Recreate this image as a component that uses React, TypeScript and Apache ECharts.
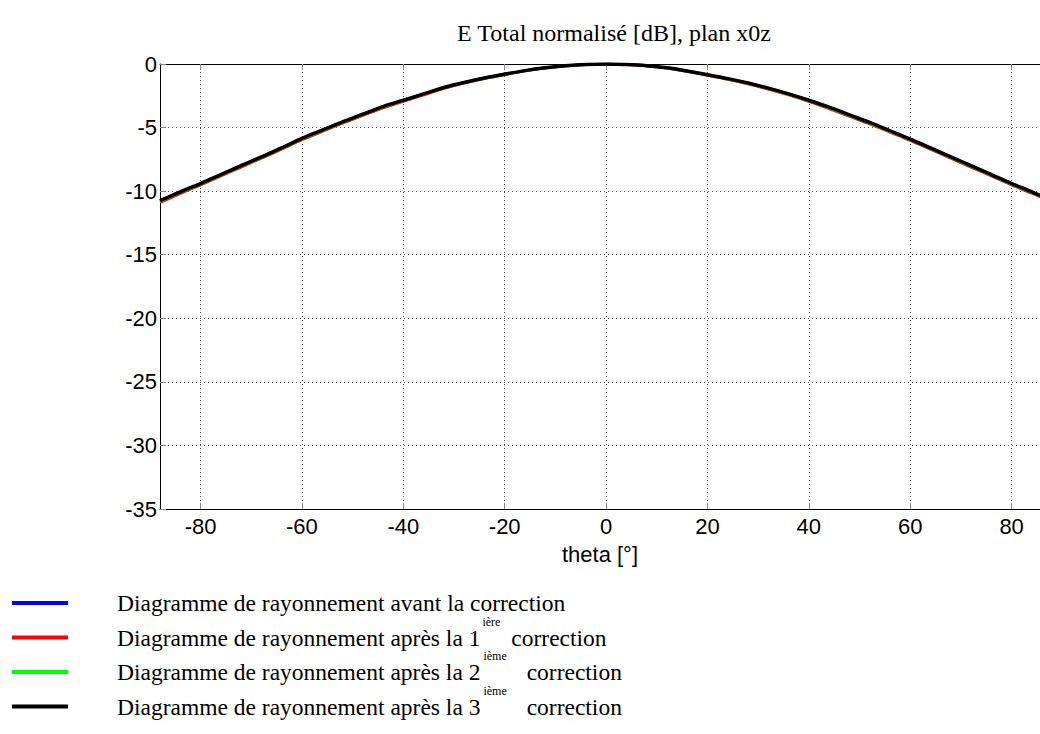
import React, { useEffect, useRef } from "react";
import * as echarts from "echarts";

const theta = [-88, -84, -80, -76, -72, -68, -64, -60, -56, -52, -48, -44, -40, -36, -32, -28, -24, -20, -16, -12, -8, -4, 0, 4, 8, 12, 16, 20, 24, 28, 32, 36, 40, 44, 48, 52, 56, 60, 64, 68, 72, 76, 80, 84, 88];

const avant = [-10.75, -10.05, -9.4, -8.7, -8.0, -7.3, -6.6, -5.85, -5.2, -4.55, -3.95, -3.35, -2.85, -2.35, -1.85, -1.45, -1.1, -0.8, -0.52, -0.3, -0.14, -0.04, 0, -0.04, -0.13, -0.3, -0.55, -0.85, -1.15, -1.5, -1.9, -2.35, -2.85, -3.4, -4.0, -4.6, -5.25, -5.9, -6.6, -7.3, -8.0, -8.7, -9.4, -10.05, -10.75];

const apres1 = [-10.9, -10.2, -9.52, -8.82, -8.12, -7.42, -6.72, -5.97, -5.32, -4.66, -4.06, -3.46, -2.95, -2.44, -1.93, -1.52, -1.16, -0.85, -0.56, -0.33, -0.16, -0.05, -0.01, -0.05, -0.15, -0.33, -0.6, -0.9, -1.22, -1.58, -1.99, -2.45, -2.96, -3.52, -4.12, -4.72, -5.37, -6.02, -6.72, -7.42, -8.12, -8.82, -9.52, -10.18, -10.88];

const apres2 = [-10.83, -10.12, -9.46, -8.76, -8.06, -7.36, -6.66, -5.91, -5.26, -4.6, -4.0, -3.4, -2.9, -2.39, -1.89, -1.48, -1.13, -0.82, -0.54, -0.31, -0.15, -0.04, 0, -0.04, -0.14, -0.31, -0.57, -0.87, -1.18, -1.54, -1.94, -2.4, -2.9, -3.46, -4.06, -4.66, -5.31, -5.96, -6.66, -7.36, -8.06, -8.76, -9.46, -10.11, -10.81];

const apres3 = [-10.75, -10.05, -9.4, -8.7, -8.0, -7.3, -6.6, -5.85, -5.2, -4.55, -3.95, -3.35, -2.85, -2.35, -1.85, -1.45, -1.1, -0.8, -0.52, -0.3, -0.14, -0.04, 0, -0.04, -0.13, -0.3, -0.55, -0.85, -1.15, -1.5, -1.9, -2.35, -2.85, -3.4, -4.0, -4.6, -5.25, -5.9, -6.6, -7.3, -8.0, -8.7, -9.4, -10.05, -10.75];

const xTicks = [-80, -60, -40, -20, 0, 20, 40, 60, 80];

const seriesNames = [
  "Diagramme de rayonnement avant la correction",
  "Diagramme de rayonnement après la 1ière correction",
  "Diagramme de rayonnement après la 2ième correction",
  "Diagramme de rayonnement après la 3ième correction",
];
const legendMain = [
  "Diagramme de rayonnement avant la correction",
  "Diagramme de rayonnement après la 1",
  "Diagramme de rayonnement après la 2",
  "Diagramme de rayonnement après la 3",
];
const legendSup = ["", "ière", "ième", "ième"];
const legendSupStyle = ["", "s1", "s2", "s2"];
const legendTail = ["", " correction", " correction", " correction"];
const colors = ["#0000ff", "#ff0000", "#00ff00", "#000000"];
const seriesData = [avant, apres1, apres2, apres3];

const titleText = "E Total normalisé [dB], plan x0z";
const xName = "theta [°]";

export default function App() {
  const ref = useRef<HTMLDivElement>(null);
  useEffect(() => {
    document.body.style.margin = "0";
    const chart = echarts.init(ref.current!, null, { renderer: "svg" });
    const sans = "'Liberation Sans', Arial, sans-serif";
    const serif = "'Liberation Serif', 'Times New Roman', serif";
    const gridLine = { show: true, lineStyle: { color: "#555", type: [1, 3] as any, width: 1 } };
    const tickStyle = { show: true, inside: true, length: 6, lineStyle: { color: "#888" } };
    chart.setOption({
      animation: false,
      backgroundColor: "#fff",
      title: {
        text: titleText,
        left: 609,
        textAlign: "center",
        top: 16,
        textStyle: { fontFamily: serif, fontSize: 24, fontWeight: "normal", color: "#000" },
      },
      grid: { left: 160, top: 64, right: 0, bottom: 225, containLabel: false },
      legend: {
        orient: "vertical",
        left: 12,
        top: 579,
        height: 400,
        padding: 0,
        itemWidth: 56,
        itemHeight: 16,
        itemGap: -1.5,
        icon: "path://M0,0L56,0M0,12L56,12L56,16L0,16Z",
        itemStyle: { borderWidth: 0 },
        data: seriesNames,
        selectedMode: false,
        formatter: (name: string) => {
          const i = seriesNames.indexOf(name);
          if (!legendSup[i]) return "{m|" + legendMain[i] + "}";
          return "{m|" + legendMain[i] + "}{" + legendSupStyle[i] + "|" + legendSup[i] + "}{m|" + legendTail[i] + "}";
        },
        textStyle: {
          fontFamily: serif,
          fontSize: 23.5,
          color: "#000",
          padding: [0, 0, 0, 44],
          rich: {
            m: { fontFamily: serif, fontSize: 23.5, color: "#000", lineHeight: 22, padding: [12, 0, 0, 0] },
            s1: { fontFamily: serif, fontSize: 12, color: "#000", lineHeight: 12, padding: [0, 5, 20, 2] },
            s2: { fontFamily: serif, fontSize: 12, color: "#000", lineHeight: 12, padding: [0, 14, 20, 3] },
          },
        },
      },
      xAxis: [
        {
          type: "value",
          min: -88,
          max: 85.6,
          name: xName,
          nameLocation: "middle",
          nameGap: 34,
          nameTextStyle: { fontFamily: sans, fontSize: 22, color: "#000" },
          axisLine: { show: true, onZero: false, lineStyle: { color: "#000", width: 1 } },
          axisTick: { ...tickStyle, customValues: xTicks },
          axisLabel: { fontFamily: sans, fontSize: 22, color: "#000", margin: 6, customValues: xTicks },
          splitLine: gridLine,
        },
        {
          type: "value",
          position: "top",
          min: -88,
          max: 85.6,
          axisLine: { show: true, onZero: false, lineStyle: { color: "#000", width: 1 } },
          axisTick: { ...tickStyle, customValues: xTicks },
          axisLabel: { show: false, customValues: xTicks },
          splitLine: { show: false },
        },
      ],
      yAxis: {
        type: "value",
        min: -35,
        max: 0,
        interval: 5,
        axisLine: { show: true, onZero: false, lineStyle: { color: "#000", width: 1 } },
        axisTick: tickStyle,
        axisLabel: { fontFamily: sans, fontSize: 22, color: "#000", margin: 3 },
        splitLine: gridLine,
      },
      series: seriesNames.map((name, i) => ({
        name,
        type: "line",
        xAxisIndex: 0,
        data: theta.map((t, j) => [t, seriesData[i][j]]),
        smooth: 0.3,
        showSymbol: false,
        symbol: "none",
        color: colors[i],
        lineStyle: { color: colors[i], width: i === 3 ? 3.5 : 2.5 },
        z: 2 + i,
      })),
    });
    return () => chart.dispose();
  }, []);
  return <div ref={ref} style={{ width: 1040, height: 734 }} />;
}
